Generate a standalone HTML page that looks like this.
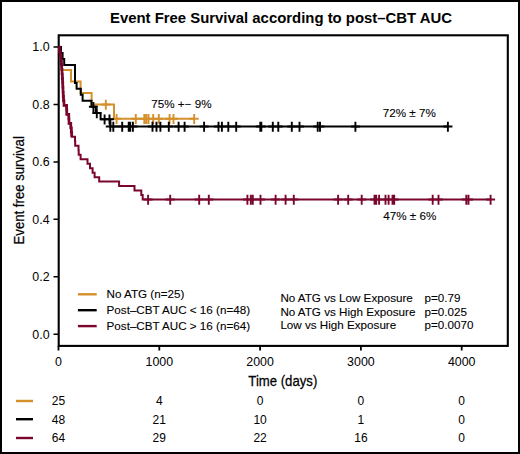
<!DOCTYPE html>
<html><head><meta charset="utf-8"><style>
html,body{margin:0;padding:0;background:#fff;}
svg{display:block;}
text{stroke:#000;stroke-width:0.1px;}
text.b{stroke:none;}
text.ax{stroke-width:0.25px;}
</style></head><body>
<svg width="520" height="454" viewBox="0 0 520 454">
<rect x="1" y="1" width="518" height="452" fill="#fff" stroke="#000" stroke-width="2"/>
<text class="b" x="281" y="22.9" text-anchor="middle" font-family='"Liberation Sans", sans-serif' font-weight="bold" font-size="14.9">Event Free Survival according to post–CBT AUC</text>
<rect x="58.7" y="35.3" width="449.10" height="310.60" fill="none" stroke="#000" stroke-width="2.1"/>
<text class="b" x="49.6" y="338.50" text-anchor="end" font-family='"Liberation Sans", sans-serif' font-size="12.4">0.0</text>
<text class="b" x="49.6" y="281.06" text-anchor="end" font-family='"Liberation Sans", sans-serif' font-size="12.4">0.2</text>
<text class="b" x="49.6" y="223.62" text-anchor="end" font-family='"Liberation Sans", sans-serif' font-size="12.4">0.4</text>
<text class="b" x="49.6" y="166.18" text-anchor="end" font-family='"Liberation Sans", sans-serif' font-size="12.4">0.6</text>
<text class="b" x="49.6" y="108.74" text-anchor="end" font-family='"Liberation Sans", sans-serif' font-size="12.4">0.8</text>
<text class="b" x="49.6" y="51.30" text-anchor="end" font-family='"Liberation Sans", sans-serif' font-size="12.4">1.0</text>
<path d="M53.5,334.20H58.7M53.5,276.76H58.7M53.5,219.32H58.7M53.5,161.88H58.7M53.5,104.44H58.7M53.5,47.00H58.7" stroke="#000" stroke-width="1.5"/>
<text class="b" x="58.50" y="366.1" text-anchor="middle" font-family='"Liberation Sans", sans-serif' font-size="12.4">0</text>
<text class="b" x="159.30" y="366.1" text-anchor="middle" font-family='"Liberation Sans", sans-serif' font-size="12.4">1000</text>
<text class="b" x="260.10" y="366.1" text-anchor="middle" font-family='"Liberation Sans", sans-serif' font-size="12.4">2000</text>
<text class="b" x="360.90" y="366.1" text-anchor="middle" font-family='"Liberation Sans", sans-serif' font-size="12.4">3000</text>
<text class="b" x="461.70" y="366.1" text-anchor="middle" font-family='"Liberation Sans", sans-serif' font-size="12.4">4000</text>
<path d="M58.50,345.9V350.6M159.30,345.9V350.6M260.10,345.9V350.6M360.90,345.9V350.6M461.70,345.9V350.6" stroke="#000" stroke-width="1.8"/>
<text class="ax" transform="translate(282.8,386.4) scale(0.866,1)" text-anchor="middle" font-family='"Liberation Sans", sans-serif' font-size="15.2">Time (days)</text>
<text class="ax" transform="translate(23.9,190.3) rotate(-90) scale(0.85,1)" text-anchor="middle" font-family='"Liberation Sans", sans-serif' font-size="15.5">Event free survival</text>
<path d="M61.80,70.00H71.00V81.50H80.60V93.00H91.60V104.50H114.00V118.80H194.20" stroke="#d3902c" stroke-width="2.0" fill="none"/>
<path d="M105.80,99.70V109.70M101.30,104.50H110.30M116.60,114.00V124.00M112.10,118.80H121.10M135.80,114.00V124.00M131.30,118.80H140.30M144.30,114.00V124.00M139.80,118.80H148.80M146.30,114.00V124.00M141.80,118.80H150.80M148.50,114.00V124.00M144.00,118.80H153.00M153.20,114.00V124.00M148.70,118.80H157.70M158.80,114.00V124.00M154.30,118.80H163.30M169.60,114.00V124.00M165.10,118.80H174.10M173.50,114.00V124.00M169.00,118.80H178.00M194.20,114.00V124.00M189.70,118.80H198.70" stroke="#d3902c" stroke-width="1.9" fill="none"/>
<path d="M58.50,47.00H61.00V53.00H62.60V59.00H64.20V65.00H75.00V82.90H76.60V88.80H80.80V94.80H82.60V100.80H91.50V106.70H95.80V113.00H100.60V119.30H110.30V126.50H447.90" stroke="#000" stroke-width="2.0" fill="none"/>
<path d="M93.40,101.90V111.90M88.90,106.70H97.90M96.80,108.20V118.20M92.30,113.00H101.30M104.60,114.50V124.50M100.10,119.30H109.10M109.50,114.50V124.50M105.00,119.30H114.00M110.30,121.70V131.70M105.80,126.50H114.80M113.30,121.70V131.70M108.80,126.50H117.80M122.20,121.70V131.70M117.70,126.50H126.70M128.70,121.70V131.70M124.20,126.50H133.20M130.20,121.70V131.70M125.70,126.50H134.70M132.90,121.70V131.70M128.40,126.50H137.40M152.50,121.70V131.70M148.00,126.50H157.00M156.50,121.70V131.70M152.00,126.50H161.00M160.40,121.70V131.70M155.90,126.50H164.90M168.80,121.70V131.70M164.30,126.50H173.30M178.60,121.70V131.70M174.10,126.50H183.10M184.60,121.70V131.70M180.10,126.50H189.10M204.10,121.70V131.70M199.60,126.50H208.60M218.50,121.70V131.70M214.00,126.50H223.00M221.90,121.70V131.70M217.40,126.50H226.40M228.30,121.70V131.70M223.80,126.50H232.80M236.20,121.70V131.70M231.70,126.50H240.70M260.30,121.70V131.70M255.80,126.50H264.80M261.30,121.70V131.70M256.80,126.50H265.80M272.80,121.70V131.70M268.30,126.50H277.30M278.30,121.70V131.70M273.80,126.50H282.80M291.80,121.70V131.70M287.30,126.50H296.30M299.50,121.70V131.70M295.00,126.50H304.00M317.70,121.70V131.70M313.20,126.50H322.20M320.00,121.70V131.70M315.50,126.50H324.50M355.40,121.70V131.70M350.90,126.50H359.90M447.90,121.70V131.70M443.40,126.50H452.40" stroke="#000" stroke-width="1.9" fill="none"/>
<path d="M58.50,47.00H59.40V51.49H60.30V55.98H61.00V60.46H61.40V64.95H61.70V69.44H62.00V73.92H62.30V78.41H62.60V82.90H62.80V87.39H63.00V91.88H63.20V96.36H63.50V100.85H64.00V105.34H66.60V109.82H66.80V114.31H68.80V118.80H69.00V123.29H70.80V127.77H71.30V132.26H71.70V136.75H75.00V141.24H75.20V145.72H78.50V150.21H78.70V154.70H80.60V159.19H87.50V163.68H90.00V168.16H92.60V172.65H94.60V177.14H99.20V181.62H119.10V186.11H134.50V190.60H141.30V195.09H142.70V199.57H490.60" stroke="#7a062d" stroke-width="2.0" fill="none"/>
<path d="M148.10,194.77V204.77M143.60,199.57H152.60M170.20,194.77V204.77M165.70,199.57H174.70M199.20,194.77V204.77M194.70,199.57H203.70M208.80,194.77V204.77M204.30,199.57H213.30M247.40,194.77V204.77M242.90,199.57H251.90M250.80,194.77V204.77M246.30,199.57H255.30M252.80,194.77V204.77M248.30,199.57H257.30M260.50,194.77V204.77M256.00,199.57H265.00M275.60,194.77V204.77M271.10,199.57H280.10M285.60,194.77V204.77M281.10,199.57H290.10M293.80,194.77V204.77M289.30,199.57H298.30M338.10,194.77V204.77M333.60,199.57H342.60M348.20,194.77V204.77M343.70,199.57H352.70M361.70,194.77V204.77M357.20,199.57H366.20M374.50,194.77V204.77M370.00,199.57H379.00M376.20,194.77V204.77M371.70,199.57H380.70M379.10,194.77V204.77M374.60,199.57H383.60M385.50,194.77V204.77M381.00,199.57H390.00M388.60,194.77V204.77M384.10,199.57H393.10M392.50,194.77V204.77M388.00,199.57H397.00M394.20,194.77V204.77M389.70,199.57H398.70M432.70,194.77V204.77M428.20,199.57H437.20M438.50,194.77V204.77M434.00,199.57H443.00M466.30,194.77V204.77M461.80,199.57H470.80M468.50,194.77V204.77M464.00,199.57H473.00M490.60,194.77V204.77M486.10,199.57H495.10" stroke="#7a062d" stroke-width="1.9" fill="none"/>
<path d="M58.50,47.00H59.40V51.49H60.30V55.98H61.00V60.46H61.40V64.95H61.70V69.44H62.00V73.92H62.30V78.41H62.60V82.90H62.80V87.39H63.00V91.88H63.20V96.36H63.50V100.85H64.00V105.34H66.60V109.82H66.80V114.31H68.80V118.80H69.00V123.29H70.80V127.77H71.30V132.26H71.70V136.75H71.70" stroke="#7a062d" stroke-width="2.7" fill="none"/>
<text x="151.3" y="108.2" font-family='"Liberation Sans", sans-serif' font-size="11.65">75% +− 9%</text>
<text x="382.8" y="117.2" font-family='"Liberation Sans", sans-serif' font-size="11.65">72% ± 7%</text>
<text x="383.3" y="220.2" font-family='"Liberation Sans", sans-serif' font-size="11.65">47% ± 6%</text>
<path d="M77.9,294.3H96.7" stroke="#d3902c" stroke-width="2.4"/>
<text x="106.6" y="297.6" font-family='"Liberation Sans", sans-serif' font-size="11.65">No ATG (n=25)</text>
<path d="M77.9,310.2H96.7" stroke="#000" stroke-width="2.4"/>
<text x="106.6" y="313.7" font-family='"Liberation Sans", sans-serif' font-size="11.65">Post–CBT AUC &lt; 16 (n=48)</text>
<path d="M77.9,326.1H96.7" stroke="#7a062d" stroke-width="2.4"/>
<text x="106.6" y="329.6" font-family='"Liberation Sans", sans-serif' font-size="11.65">Post–CBT AUC &gt; 16 (n=64)</text>
<text x="280.4" y="301.6" font-family='"Liberation Sans", sans-serif' font-size="11.65">No ATG vs Low Exposure</text>
<text x="424.5" y="301.6" font-family='"Liberation Sans", sans-serif' font-size="11.65">p=0.79</text>
<text x="280.4" y="315.5" font-family='"Liberation Sans", sans-serif' font-size="11.65">No ATG vs High Exposure</text>
<text x="424.5" y="315.5" font-family='"Liberation Sans", sans-serif' font-size="11.65">p=0.025</text>
<text x="280.4" y="329.3" font-family='"Liberation Sans", sans-serif' font-size="11.65">Low vs High Exposure</text>
<text x="424.5" y="329.3" font-family='"Liberation Sans", sans-serif' font-size="11.65">p=0.0070</text>
<path d="M16,401.0H33" stroke="#d3902c" stroke-width="2.4"/>
<text class="b" x="58.50" y="404.9" text-anchor="middle" font-family='"Liberation Sans", sans-serif' font-size="12">25</text>
<text class="b" x="159.30" y="404.9" text-anchor="middle" font-family='"Liberation Sans", sans-serif' font-size="12">4</text>
<text class="b" x="260.10" y="404.9" text-anchor="middle" font-family='"Liberation Sans", sans-serif' font-size="12">0</text>
<text class="b" x="360.90" y="404.9" text-anchor="middle" font-family='"Liberation Sans", sans-serif' font-size="12">0</text>
<text class="b" x="461.70" y="404.9" text-anchor="middle" font-family='"Liberation Sans", sans-serif' font-size="12">0</text>
<path d="M16,419.2H33" stroke="#000" stroke-width="2.4"/>
<text class="b" x="58.50" y="423.8" text-anchor="middle" font-family='"Liberation Sans", sans-serif' font-size="12">48</text>
<text class="b" x="159.30" y="423.8" text-anchor="middle" font-family='"Liberation Sans", sans-serif' font-size="12">21</text>
<text class="b" x="260.10" y="423.8" text-anchor="middle" font-family='"Liberation Sans", sans-serif' font-size="12">10</text>
<text class="b" x="360.90" y="423.8" text-anchor="middle" font-family='"Liberation Sans", sans-serif' font-size="12">1</text>
<text class="b" x="461.70" y="423.8" text-anchor="middle" font-family='"Liberation Sans", sans-serif' font-size="12">0</text>
<path d="M16,438.0H33" stroke="#7a062d" stroke-width="2.4"/>
<text class="b" x="58.50" y="442.0" text-anchor="middle" font-family='"Liberation Sans", sans-serif' font-size="12">64</text>
<text class="b" x="159.30" y="442.0" text-anchor="middle" font-family='"Liberation Sans", sans-serif' font-size="12">29</text>
<text class="b" x="260.10" y="442.0" text-anchor="middle" font-family='"Liberation Sans", sans-serif' font-size="12">22</text>
<text class="b" x="360.90" y="442.0" text-anchor="middle" font-family='"Liberation Sans", sans-serif' font-size="12">16</text>
<text class="b" x="461.70" y="442.0" text-anchor="middle" font-family='"Liberation Sans", sans-serif' font-size="12">0</text>
</svg>
</body></html>
